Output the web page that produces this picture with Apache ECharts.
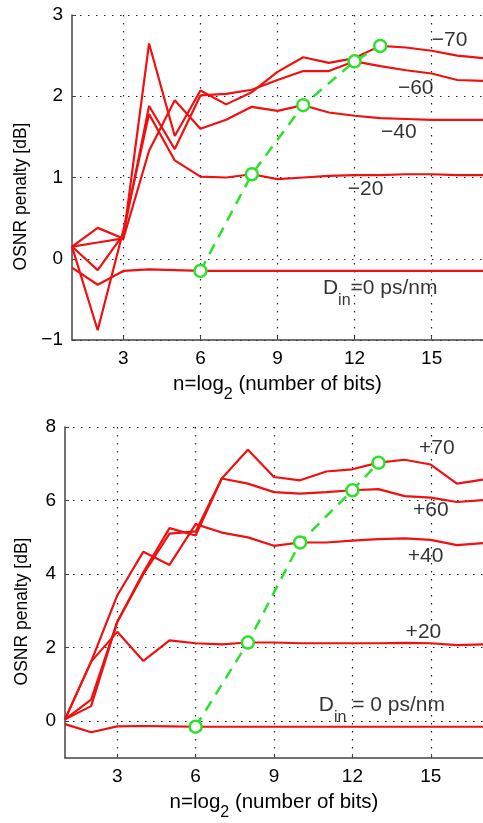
<!DOCTYPE html>
<html>
<head>
<meta charset="utf-8">
<title>OSNR penalty vs. number of bits</title>
<script src="https://cdn.jsdelivr.net/npm/echarts@6/dist/echarts.min.js"></script>
<style>
  html, body { margin: 0; padding: 0; background: #fff; }
  #chart { width: 483px; height: 823px; }
</style>
</head>
<body>
<div id="chart"></div>
<script>
// n = log2(number of bits)
const nBits = [1, 2, 3, 4, 5, 6, 7, 8, 9, 10, 11, 12, 13, 14, 15, 16, 17];

// Upper panel: negative input dispersion (ps/nm)
const negD0  = [-0.11, -0.32, -0.15, -0.13, -0.14, -0.15, -0.15, -0.15, -0.15, -0.15, -0.15, -0.15, -0.15, -0.15, -0.15, -0.15, -0.15];
const negD20 = [0.15, -0.88, 0.35, 1.78, 1.21, 1.01, 1.0, 1.04, 0.98, 1.0, 1.02, 1.03, 1.03, 1.04, 1.04, 1.03, 1.03];
const negD40 = [0.15, 0.2, 0.25, 1.33, 1.95, 1.6, 1.71, 1.87, 1.82, 1.89, 1.8, 1.76, 1.73, 1.72, 1.71, 1.71, 1.71];
const negD60 = [0.15, -0.14, 0.3, 1.88, 1.35, 2.01, 2.03, 2.08, 2.2, 2.31, 2.31, 2.43, 2.37, 2.32, 2.28, 2.2, 2.19];
const negD70 = [0.15, 0.38, 0.25, 2.65, 1.51, 2.07, 1.9, 2.05, 2.3, 2.48, 2.41, 2.47, 2.62, 2.6, 2.56, 2.5, 2.47];
const negOptX = [6, 8, 10, 12, 13];
const negOptY = [-0.15, 1.04, 1.89, 2.43, 2.62];

// Lower panel: positive input dispersion (ps/nm)
const posD0  = [-0.08, -0.3, -0.14, -0.13, -0.14, -0.15, -0.15, -0.15, -0.15, -0.15, -0.15, -0.15, -0.15, -0.15, -0.15, -0.15, -0.15];
const posD20 = [0.05, 1.62, 2.43, 1.64, 2.2, 2.12, 2.09, 2.14, 2.14, 2.12, 2.12, 2.12, 2.12, 2.13, 2.12, 2.07, 2.09];
const posD40 = [0.05, 1.62, 3.42, 4.61, 4.25, 5.36, 5.13, 5.0, 4.77, 4.86, 4.86, 4.91, 4.95, 4.97, 4.93, 4.79, 4.84];
const posD60 = [0.05, 0.59, 2.7, 4.05, 5.25, 5.05, 6.6, 6.46, 6.23, 6.19, 6.23, 6.28, 6.31, 6.12, 6.08, 5.96, 6.01];
const posD70 = [0.05, 0.41, 2.7, 4.0, 5.1, 5.16, 6.6, 7.38, 6.64, 6.55, 6.79, 6.85, 7.03, 7.11, 6.98, 6.46, 6.57];
const posOptX = [6, 8, 10, 12, 13];
const posOptY = [-0.15, 2.14, 4.86, 6.28, 7.03];

// Tick labels
const xTicks = [3, 6, 9, 12, 15];
const yTicksTop = [-1, 0, 1, 2, 3];
const yTicksBottom = [0, 2, 4, 6, 8];

// Curve annotations: [x, y, text]
const negNotes = [[15.7, 2.69, '−70'], [14.38, 2.1, '−60'], [13.72, 1.56, '−40'], [12.43, 0.86, '−20'], [13.0, -0.42, '{b|D}{s|in}{b|=0 ps/nm}']];
const posNotes = [[15.23, 7.43, '+70'], [15.0, 5.73, '+60'], [14.8, 4.49, '+40'], [14.72, 2.43, '+20'], [13.13, 0.3, '{b|D}{s|in}{b| = 0 ps/nm}']];

const FONT = "'Liberation Sans', Arial, Helvetica, sans-serif";
const INK = '#000';
const RED = '#f01010';
const GREEN = '#2ee02e';

// Subscript styling: the small token gets a taller line and sits at its bottom
function subRich(size, subSize, drop) {
  return {
    b: { fontSize: size, fontFamily: FONT, color: INK, lineHeight: size + 1, verticalAlign: 'top' },
    s: { fontSize: subSize, fontFamily: FONT, color: INK, lineHeight: size + 1 + drop, verticalAlign: 'bottom' }
  };
}

function zip(xs, ys) { return xs.map((x, i) => [x, ys[i]]); }

function redSeries(ys, idx) {
  return {
    type: 'line', xAxisIndex: idx, yAxisIndex: idx,
    data: zip(nBits, ys), symbol: 'none', smooth: false,
    lineStyle: { color: RED, width: 2.2 }, z: 3, silent: true
  };
}
function optSeries(xs, ys, idx) {
  return {
    type: 'line', xAxisIndex: idx, yAxisIndex: idx,
    data: zip(xs, ys), symbol: 'circle', symbolSize: 12, showAllSymbol: true,
    lineStyle: { color: GREEN, width: 2.5, type: [11, 8] },
    itemStyle: { color: '#fff', borderColor: GREEN, borderWidth: 2.5 },
    z: 5, silent: true
  };
}
function noteSeries(notes, idx) {
  return {
    type: 'scatter', xAxisIndex: idx, yAxisIndex: idx,
    symbolSize: 1, itemStyle: { color: 'transparent' }, z: 6, silent: true,
    data: notes.map(n => ({ value: [n[0], n[1]], name: n[2] })),
    label: {
      show: true, position: 'inside', formatter: p => p.name,
      fontSize: 21, fontFamily: FONT, color: INK, rich: subRich(21, 16, 9)
    }
  };
}

function axisLine() { return { show: true, onZero: false, lineStyle: { color: '#444', width: 1.5 } }; }
function gridDots() { return { show: true, lineStyle: { color: '#222', width: 1.2, type: [1.5, 6.5] } }; }

function xAxis(idx) {
  return {
    type: 'value', gridIndex: idx, min: 1, max: 17,
    axisLine: axisLine(),
    axisTick: { show: true, inside: true, length: 4, customValues: xTicks, lineStyle: { color: '#444' } },
    axisLabel: { customValues: xTicks, fontSize: 19, fontFamily: FONT, color: INK, margin: 9 },
    splitLine: gridDots(),
    name: '{b|n=log}{s|2}{b| (number of bits)}',
    nameLocation: 'middle', nameGap: 34,
    nameTextStyle: { fontSize: 20.5, fontFamily: FONT, color: INK, rich: subRich(20.5, 16, 7) }
  };
}
function yAxis(idx, min, max, ticks, gap) {
  const fmt = v => String(v).replace('-', '−');
  return {
    type: 'value', gridIndex: idx, min: min, max: max,
    axisLine: axisLine(),
    axisTick: { show: true, inside: true, length: 4, customValues: ticks, lineStyle: { color: '#444' } },
    axisLabel: { customValues: ticks, formatter: fmt, fontSize: 19, fontFamily: FONT, color: INK, margin: 9 },
    splitLine: gridDots(),
    name: 'OSNR penalty [dB]', nameLocation: 'middle', nameGap: gap, nameRotate: 90,
    // extra room on the trailing end nudges the rotated title down a little
    nameTextStyle: { fontSize: 17.5, fontFamily: FONT, color: INK, padding: [0, 38, 0, 0] }
  };
}

const chart = echarts.init(document.getElementById('chart'), null, { renderer: 'canvas' });
chart.setOption({
  animation: false,
  backgroundColor: '#fff',
  grid: [
    { left: 72, top: 15, width: 412, height: 325, containLabel: false },
    { left: 65, top: 427, width: 419, height: 331, containLabel: false }
  ],
  xAxis: [xAxis(0), xAxis(1)],
  yAxis: [yAxis(0, -1, 3, yTicksTop, 41), yAxis(1, -1, 8, yTicksBottom, 34)],
  series: [
    redSeries(negD0, 0), redSeries(negD20, 0), redSeries(negD40, 0), redSeries(negD60, 0), redSeries(negD70, 0),
    optSeries(negOptX, negOptY, 0), noteSeries(negNotes, 0),
    redSeries(posD0, 1), redSeries(posD20, 1), redSeries(posD40, 1), redSeries(posD60, 1), redSeries(posD70, 1),
    optSeries(posOptX, posOptY, 1), noteSeries(posNotes, 1)
  ]
});
</script>
</body>
</html>
